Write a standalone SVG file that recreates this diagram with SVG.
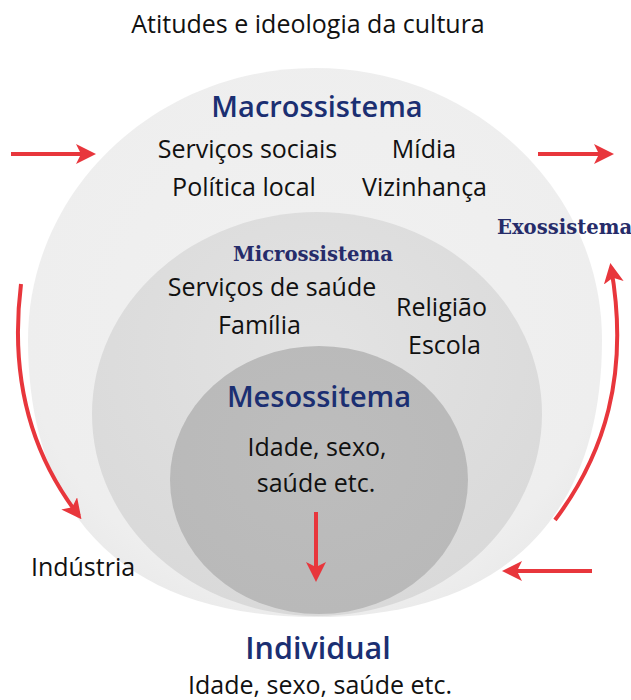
<svg xmlns="http://www.w3.org/2000/svg" width="631" height="700" viewBox="0 0 631 700">
  <style>
    .t { font-family: "Open Sans", "Noto Sans", "Liberation Sans", sans-serif; font-size: 25px; fill: #111111; }
    .h { font-family: "Open Sans", "Noto Sans", "Liberation Sans", sans-serif; font-weight: 600; fill: #1b2f72; }
    .s { font-family: "DejaVu Serif", "Liberation Serif", serif; font-weight: bold; font-size: 19.6px; fill: #262c6a; }
    .arrow { fill: none; stroke: #e8363c; stroke-width: 4; }
  </style>
  <defs>
    <marker id="head" viewBox="0 0 10 10" refX="8" refY="5" markerWidth="5" markerHeight="5" markerUnits="strokeWidth" orient="auto">
      <path d="M0,0 L10,5 L0,10 L2.5,5 z" fill="#e8363c"/>
    </marker>
    <radialGradient id="gOuter" cx="0.5" cy="0.45" r="0.6">
      <stop offset="0" stop-color="#f1f1f1"/>
      <stop offset="0.85" stop-color="#eeeeee"/>
      <stop offset="1" stop-color="#e9e9e9"/>
    </radialGradient>
    <radialGradient id="gMid" cx="0.5" cy="0.35" r="0.65">
      <stop offset="0" stop-color="#e3e3e3"/>
      <stop offset="1" stop-color="#d9d9d9"/>
    </radialGradient>
    <radialGradient id="gIn" cx="0.5" cy="0.4" r="0.6">
      <stop offset="0" stop-color="#bdbdbd"/>
      <stop offset="1" stop-color="#b9b9b9"/>
    </radialGradient>
  </defs>

  <rect width="631" height="700" fill="#ffffff"/>

  <!-- Title -->
  <g id="title">
    <text class="t" x="308" y="33" text-anchor="middle" font-size="25.5">Atitudes e ideologia da cultura</text>
  </g>

  <!-- Outer layer: macrosystem -->
  <g id="macrossistema">
    <path d="M315,68 C473.5,68 602,189.8 602,340 C602,520 500,617 315,617 C130,617 28,520 28,340 C28,189.8 156.5,68 315,68 Z" fill="url(#gOuter)"/>
    <text class="h" x="317" y="117" text-anchor="middle" font-size="29">Macrossistema</text>
    <text class="t" x="247.5" y="158" text-anchor="middle">Serviços sociais</text>
    <text class="t" x="424" y="158" text-anchor="middle">Mídia</text>
    <text class="t" x="244" y="196" text-anchor="middle">Política local</text>
    <text class="t" x="424.5" y="196" text-anchor="middle">Vizinhança</text>
  </g>

  <!-- Exosystem label -->
  <g id="exossistema">
    <text class="s" x="497" y="234">Exossistema</text>
  </g>

  <!-- Middle layer: microsystem -->
  <g id="microssistema">
    <ellipse cx="317" cy="414" rx="225" ry="202" fill="url(#gMid)"/>
    <text class="s" x="313" y="261" text-anchor="middle">Microssistema</text>
    <text class="t" x="272" y="296" text-anchor="middle">Serviços de saúde</text>
    <text class="t" x="259.5" y="334" text-anchor="middle">Família</text>
    <text class="t" x="441.5" y="316" text-anchor="middle">Religião</text>
    <text class="t" x="444.5" y="354" text-anchor="middle">Escola</text>
  </g>

  <!-- Inner layer: mesosystem -->
  <g id="mesossitema">
    <ellipse cx="319" cy="480" rx="149" ry="134" fill="url(#gIn)"/>
    <text class="h" x="319" y="407" text-anchor="middle" font-size="29">Mesossitema</text>
    <text class="t" x="317" y="456" text-anchor="middle">Idade, sexo,</text>
    <text class="t" x="316" y="492" text-anchor="middle">saúde etc.</text>
  </g>

  <!-- Side label -->
  <g id="industria">
    <text class="t" x="83" y="576" text-anchor="middle">Indústria</text>
  </g>

  <!-- Individual -->
  <g id="individual">
    <text class="h" x="318" y="659" text-anchor="middle" font-size="30.5">Individual</text>
    <text class="t" x="320" y="694" text-anchor="middle" font-size="24">Idade, sexo, saúde etc.</text>
  </g>

  <!-- Connectors -->
  <g id="connectors">
    <path class="arrow" d="M11,154 L92,154" marker-end="url(#head)"/>
    <path class="arrow" d="M538,154 L610,154" marker-end="url(#head)"/>
    <path class="arrow" d="M592,571 L506,571" marker-end="url(#head)"/>
    <path class="arrow" d="M316,512 L316,578" marker-end="url(#head)"/>
    <path class="arrow" d="M21,284 C11,365 24,445 79,516" marker-end="url(#head)"/>
    <path class="arrow" d="M555,520 C604,455 630,375 611,267" marker-end="url(#head)"/>
  </g>
</svg>
